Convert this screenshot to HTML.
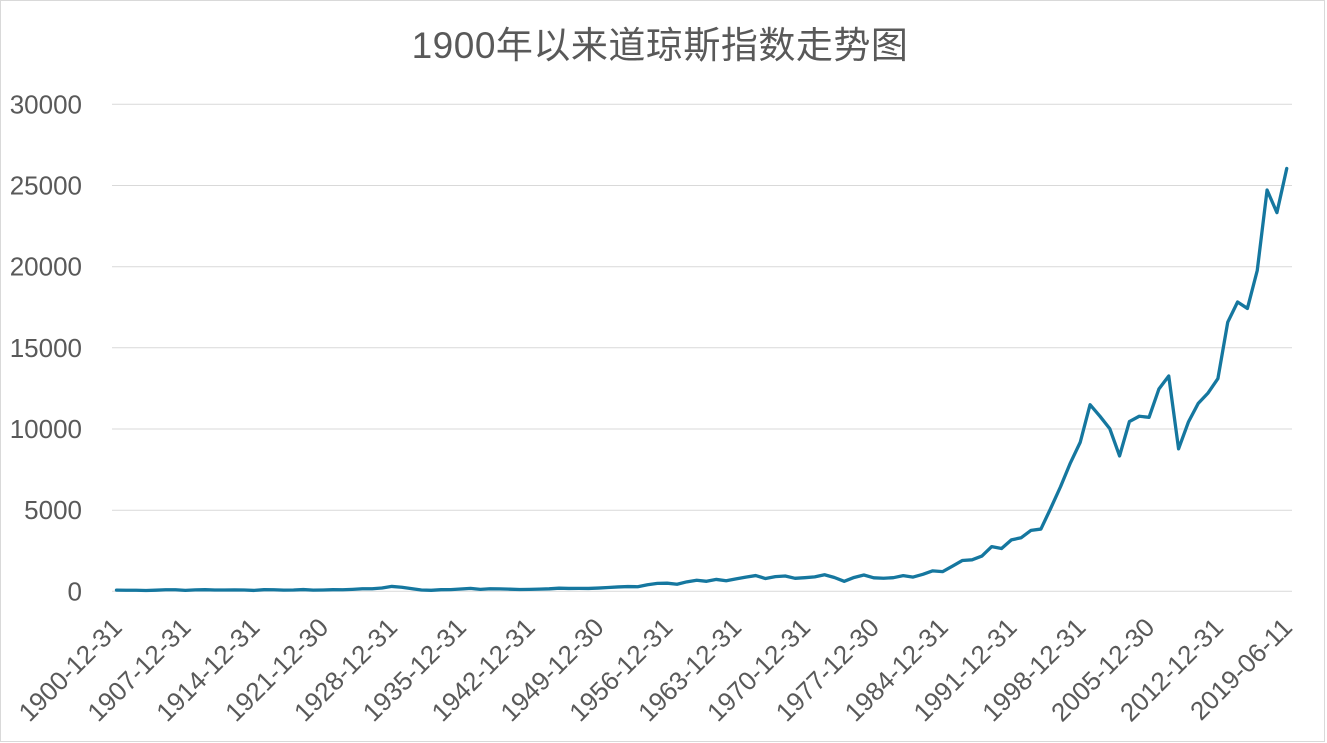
<!DOCTYPE html>
<html>
<head>
<meta charset="utf-8">
<style>
  html, body { margin:0; padding:0; background:#fff; }
  body { width:1327px; height:743px; overflow:hidden; }
  svg { display:block; }
  .t { font-family:"Liberation Sans","Noto Sans CJK SC",sans-serif; fill:#595959; }
</style>
</head>
<body>
<svg width="1327" height="743" viewBox="0 0 1327 743" xmlns="http://www.w3.org/2000/svg">
  <rect x="0.5" y="0.5" width="1324" height="741" fill="#fff" stroke="#d9d9d9" stroke-width="1"/>
  <text class="t" x="660" y="58" text-anchor="middle" font-size="37" style="letter-spacing:0.5px">1900年以来道琼斯指数走势图</text>

  <g stroke="#d9d9d9" stroke-width="1">
    <line x1="112" x2="1292" y1="104.3" y2="104.3"/>
    <line x1="112" x2="1292" y1="185.5" y2="185.5"/>
    <line x1="112" x2="1292" y1="266.7" y2="266.7"/>
    <line x1="112" x2="1292" y1="347.8" y2="347.8"/>
    <line x1="112" x2="1292" y1="429" y2="429"/>
    <line x1="112" x2="1292" y1="510.2" y2="510.2"/>
    <line x1="112" x2="1292" y1="591.3" y2="591.3"/>
  </g>

  <g class="t" font-size="26" text-anchor="end">
    <text x="82" y="113.3">30000</text>
    <text x="82" y="194.5">25000</text>
    <text x="82" y="275.7">20000</text>
    <text x="82" y="356.8">15000</text>
    <text x="82" y="438">10000</text>
    <text x="82" y="519.2">5000</text>
    <text x="82" y="600.3">0</text>
  </g>

  <g transform="translate(116.5,591.3) scale(9.834,-0.016233)">
    <polyline fill="none" stroke="#15779f" stroke-width="3.3" stroke-linejoin="round" stroke-linecap="round" vector-effect="non-scaling-stroke"
      points="0,70.71 1,64.56 2,64.29 3,49.11 4,69.61 5,96.2 6,94.35 7,58.75 8,86.15 9,99.05 10,81.36 11,81.68 12,87.87 13,78.78 14,54.58 15,99.15 16,95 17,74.38 18,82.2 19,107.23 20,71.95 21,81.1 22,98.73 23,95.52 24,120.51 25,156.66 26,157.2 27,202.4 28,300 29,248.48 30,164.58 31,77.9 32,59.93 33,99.9 34,104.04 35,144.13 36,179.9 37,120.85 38,154.76 39,150.24 40,131.13 41,110.96 42,119.4 43,135.89 44,152.32 45,192.91 46,177.2 47,181.16 48,177.3 49,200.13 50,235.41 51,269.23 52,291.9 53,280.9 54,404.39 55,488.4 56,499.47 57,435.69 58,583.65 59,679.36 60,615.89 61,731.14 62,652.1 63,762.95 64,874.13 65,969.26 66,785.69 67,905.11 68,943.75 69,800.36 70,838.92 71,890.2 72,1020.02 73,850.86 74,616.24 75,852.41 76,1004.65 77,831.17 78,805.01 79,838.74 80,963.99 81,875 82,1046.54 83,1258.64 84,1211.57 85,1546.67 86,1895.95 87,1938.83 88,2168.57 89,2753.2 90,2633.66 91,3168.83 92,3301.11 93,3754.09 94,3834.44 95,5117.12 96,6448.27 97,7908.25 98,9181.43 99,11497.12 100,10786.85 101,10021.5 102,8341.63 103,10453.92 104,10783.01 105,10717.5 106,12463.15 107,13264.82 108,8776.39 109,10428.05 110,11577.51 111,12217.56 112,13104.14 113,16576.66 114,17823.07 115,17425.03 116,19762.6 117,24719.22 118,23327.46 119,26048.51"/>
  </g>

  <g class="t" font-size="26" text-anchor="end">
    <text transform="translate(123.5,629) rotate(-45)">1900-12-31</text>
    <text transform="translate(192.3,629) rotate(-45)">1907-12-31</text>
    <text transform="translate(261.2,629) rotate(-45)">1914-12-31</text>
    <text transform="translate(330,629) rotate(-45)">1921-12-30</text>
    <text transform="translate(398.9,629) rotate(-45)">1928-12-31</text>
    <text transform="translate(467.7,629) rotate(-45)">1935-12-31</text>
    <text transform="translate(536.5,629) rotate(-45)">1942-12-31</text>
    <text transform="translate(605.4,629) rotate(-45)">1949-12-30</text>
    <text transform="translate(674.2,629) rotate(-45)">1956-12-31</text>
    <text transform="translate(743,629) rotate(-45)">1963-12-31</text>
    <text transform="translate(811.9,629) rotate(-45)">1970-12-31</text>
    <text transform="translate(880.7,629) rotate(-45)">1977-12-30</text>
    <text transform="translate(949.6,629) rotate(-45)">1984-12-31</text>
    <text transform="translate(1018.4,629) rotate(-45)">1991-12-31</text>
    <text transform="translate(1087.2,629) rotate(-45)">1998-12-31</text>
    <text transform="translate(1156.1,629) rotate(-45)">2005-12-30</text>
    <text transform="translate(1224.9,629) rotate(-45)">2012-12-31</text>
    <text transform="translate(1293.7,629) rotate(-45)">2019-06-11</text>
  </g>
</svg>
</body>
</html>
